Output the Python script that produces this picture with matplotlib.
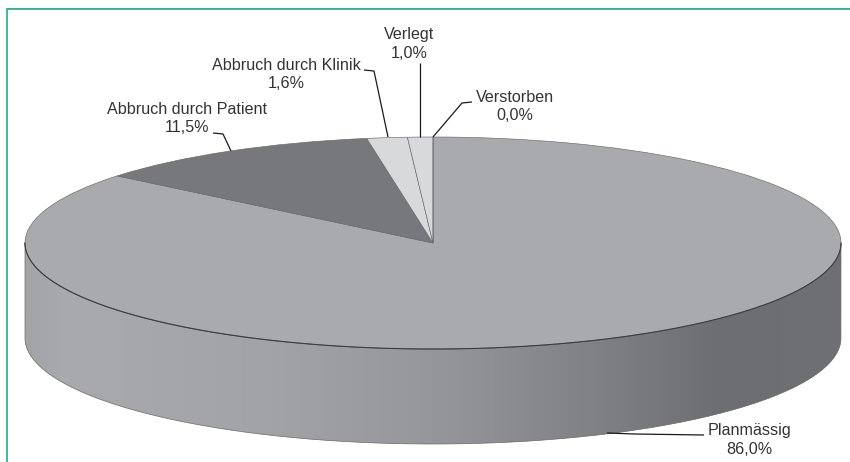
import numpy as np
import matplotlib
matplotlib.use("Agg")
import matplotlib.pyplot as plt
from matplotlib.patches import PathPatch
from matplotlib.path import Path
from matplotlib.colors import LinearSegmentedColormap

categories = ["Planmässig", "Abbruch durch Patient", "Abbruch durch Klinik", "Verlegt", "Verstorben"]
values = [86.0, 11.5, 1.6, 1.0, 0.0]
value_labels = ["86,0%", "11,5%", "1,6%", "1,0%", "0,0%"]
colors = ["#a9aaad", "#77787b", "#d8d9db", "#d8d9db", "#d8d9db"]

W, H = 850, 462
CX, CY, RX, RY, DEPTH = 433, 243, 408, 106, 95

plt.rcParams["font.family"] = ["Liberation Sans", "DejaVu Sans"]
fig = plt.figure(figsize=(W / 100, H / 100), dpi=100, facecolor="white")
ax = fig.add_axes([0, 0, 1, 1])


def X(px):
    return (px - CX) / RX


def Y(py):
    return (CY - py) / RY


# side wall with a horizontal shading, clipped to the front of the cylinder
th = np.linspace(np.pi, 2 * np.pi, 300)
top_edge = np.column_stack([np.cos(th), np.sin(th)])
bot_edge = np.column_stack([np.cos(th[::-1]), np.sin(th[::-1]) - DEPTH / RY])
wall_verts = np.vstack([top_edge, bot_edge, top_edge[:1]])
wall_path = Path(wall_verts)
cmap = LinearSegmentedColormap.from_list(
    "wall",
    [(0, "#a3a4a7"), (0.05, "#a9aaad"), (0.3, "#a2a3a6"), (0.5, "#96979a"),
     (0.7, "#808184"), (0.85, "#6d6e71"), (1, "#6f7073")],
)
grad = np.linspace(0, 1, 512).reshape(1, -1)
im = ax.imshow(grad, cmap=cmap, extent=(-1, 1, -1 - DEPTH / RY, 0), aspect="auto", zorder=1)
wall = PathPatch(wall_path, facecolor="none", edgecolor="#68696c", lw=0.5, zorder=2)
ax.add_patch(wall)
im.set_clip_path(wall)

# top face
ax.pie(values, colors=colors, startangle=90, counterclock=False, radius=1, center=(0, 0),
       wedgeprops=dict(edgecolor="#68696c", linewidth=0.45))
for w in ax.patches:
    w.set_zorder(3)
ax.plot(top_edge[:, 0], top_edge[:, 1], color="#3c3c3f", lw=0.8, zorder=3.5)
ax.set_aspect("auto")
ax.set_xlim(X(0), X(W))
ax.set_ylim(Y(H), Y(0))
ax.set_axis_off()

# leader lines and labels (label position, leader polyline in pixels)
layout = {
    "Planmässig": ((749, 440), [(607, 433), (635, 434), (704, 435)]),
    "Abbruch durch Patient": ((187, 118), [(213, 133), (223, 134), (231, 151)]),
    "Abbruch durch Klinik": ((286.5, 74), [(364, 70), (374, 71), (388, 137)]),
    "Verlegt": ((409, 44), [(420, 63), (420, 137)]),
    "Verstorben": ((515, 106), [(472, 102), (462, 103), (433, 137)]),
}
for name, val in zip(categories, value_labels):
    (lx, ly), line = layout[name]
    pts = np.array(line, dtype=float)
    ax.plot(X(pts[:, 0]), Y(pts[:, 1]), color="#1a1a1a", lw=0.9, zorder=4, solid_capstyle="butt")
    ax.text(X(lx), Y(ly), f"{name}\n{val}", ha="center", va="center", fontsize=11.6,
            color="#333333", linespacing=1.25, zorder=5)

# green frame (top and left)
ax.plot(X(np.array([7, 7, W])), Y(np.array([H, 9, 9])), color="#1fae85", lw=1.2, zorder=6,
        solid_joinstyle="miter")
ax.plot(X(np.array([7, W])), Y(np.array([8, 8])), color="#a5dccb", lw=0.8, zorder=5)

fig.savefig("out.png", dpi=100)
